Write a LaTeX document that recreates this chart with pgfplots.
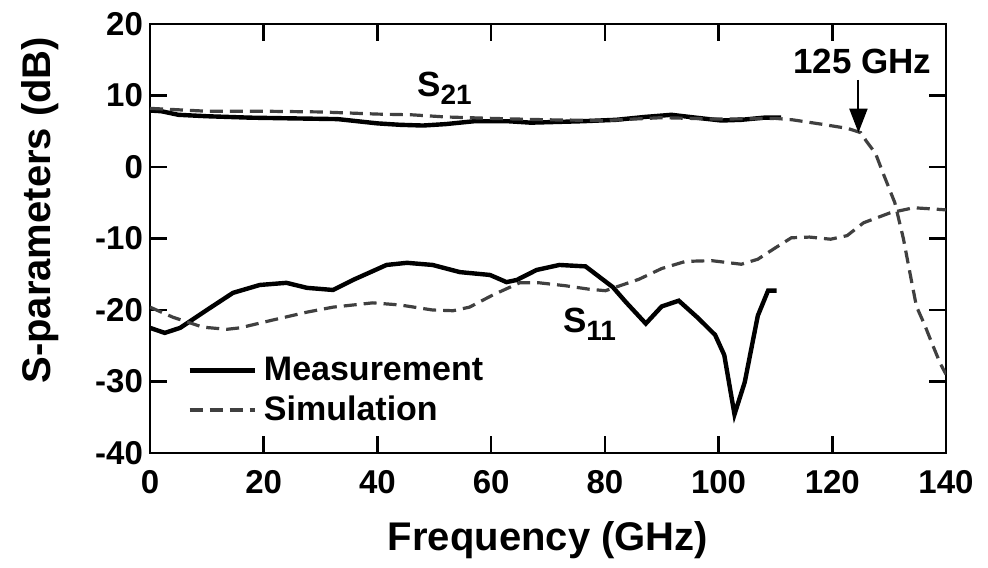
\documentclass[border=0pt]{standalone}
\usepackage{fontspec}
\setmainfont{Liberation Sans}
\usepackage{pgfplots}
\pgfplotsset{compat=1.18}
\usetikzlibrary{arrows.meta}

\begin{document}
\begin{tikzpicture}
\useasboundingbox (-75pt,-57pt) rectangle (419pt,226.5pt);
\begin{axis}[
  at={(0pt,0pt)}, anchor=south west,
  scale only axis, width=398pt, height=214.5pt,
  xmin=0, xmax=140, ymin=-40, ymax=20,
  xtick={0,20,...,140}, ytick={-40,-30,...,20},
  tick align=inside, major tick length=8.5pt,
  axis line style={line width=1.3pt},
  every tick/.style={black, line width=1.3pt},
  /pgf/number format/assume math mode=true,
  tick label style={font=\fontsize{16.5}{18}\selectfont\bfseries},
  xticklabel style={yshift=-5pt},
  xlabel={Frequency (GHz)}, ylabel={S-parameters (dB)},
  label style={font=\fontsize{20}{22}\selectfont\bfseries},
  xlabel style={at={(axis description cs:0.5,-0.203)}, anchor=center},
  ylabel style={at={(axis description cs:-0.138,0.566)}, anchor=center, rotate=0},
  legend style={at={(axis cs:6.5,-26.4)}, anchor=north west, draw=none, fill=none,
    font=\fontsize{17}{17}\selectfont\bfseries, inner sep=0pt, row sep=5pt,
    nodes={inner sep=0.6pt}},
  legend cell align=left,
  legend image code/.code={\draw[#1] (0pt,0pt) -- (32.5pt,0pt); \path (35.5pt,0pt);},
]
% S21 measurement
\addplot[black, line width=2.2pt] coordinates {
(0,7.9) (2,7.8) (5,7.3) (10,7.1) (17.6,6.9) (25,6.8) (33,6.7) (40,6.1) (44,5.9)
(48,5.8) (52,6.0) (57,6.4) (63,6.4) (67,6.2) (71.5,6.3) (76,6.4) (82,6.6)
(87,7.0) (91.7,7.3) (96,6.9) (100.5,6.5) (104,6.6) (108,6.9) (111,6.9)
};
% S21 simulation
\addplot[black!75, line width=1.6pt, dash pattern=on 6.5pt off 3.5pt] coordinates {
(0,8.2) (5,8.0) (10,7.8) (20,7.8) (30,7.7) (40,7.4) (46,7.3) (52,7.0) (60,6.8)
(70,6.6) (80,6.5) (90,6.9) (100,6.7) (110,6.8) (113,6.6) (118,6.0) (122.7,5.4)
(125,4.8) (126,3.6) (127.6,1.9) (129,-1) (131,-5) (132.5,-10) (133.7,-15)
(134.8,-19.5) (136.2,-22) (137.6,-24.8) (139,-27.5) (140,-29)
};
\legend{Measurement,Simulation}
% S11 measurement
\addplot[black, line width=2.2pt, forget plot] coordinates {
(0,-22.5) (2.6,-23.2) (5.3,-22.5) (10,-20) (14.6,-17.6) (19.3,-16.5) (24,-16.2)
(27.6,-16.9) (32.2,-17.2) (35.7,-15.8) (41.6,-13.7) (45.2,-13.4) (49.7,-13.7)
(54.5,-14.7) (59.8,-15.1) (62.7,-16.1) (64.5,-15.8) (68,-14.4) (72,-13.7)
(76.6,-13.9) (81.4,-16.8) (83.7,-18.9) (87.2,-21.9) (90,-19.5) (93,-18.7)
(96.5,-21.2) (99.4,-23.5) (101,-26.3) (102.8,-34.6) (104.6,-30.1) (106.9,-20.8)
(108.7,-17.3) (110.2,-17.3)
};
% S11 simulation
\addplot[black!75, line width=1.6pt, dash pattern=on 6.5pt off 3.5pt, forget plot] coordinates {
(0,-19.6) (4,-21) (9.3,-22.4) (13.5,-22.7) (15.8,-22.5) (21.6,-21.4) (27.6,-20.3)
(32.2,-19.6) (39.2,-19) (44,-19.3) (49.7,-20) (53.3,-20.1) (56.2,-19.6)
(60.3,-17.9) (65,-16.2) (68.5,-16.2) (73,-16.6) (77.3,-17.1) (80.1,-17.3)
(86,-15.7) (90,-14.2) (94.2,-13.2) (98.8,-13.1) (104,-13.6) (106.9,-12.9)
(110,-11.3) (112.8,-9.9) (116,-9.8) (119.7,-10.1) (122.6,-9.6) (125.5,-7.8)
(130.2,-6.4) (134.3,-5.7) (138.3,-5.9) (140,-6.0)
};
\node[font=\fontsize{17.5}{18}\selectfont\bfseries] at (axis cs:51.8,11.0)
  {S\raisebox{-0.45ex}{\fontsize{14}{14}\selectfont 21}};
\node[font=\fontsize{17.5}{18}\selectfont\bfseries] at (axis cs:77.3,-22.0)
  {S\raisebox{-0.45ex}{\fontsize{14}{14}\selectfont 11}};
\node[font=\fontsize{17.5}{18}\selectfont\bfseries] at (axis cs:125.3,14.8) {125 GHz};
\draw[black, line width=1pt, -{Triangle[length=12pt,width=9pt]}]
  (axis cs:124.6,12.2) -- (axis cs:124.6,4.8);
\end{axis}
\end{tikzpicture}
\end{document}
